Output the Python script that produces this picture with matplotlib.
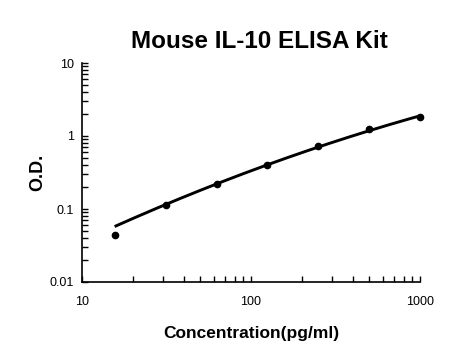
import numpy as np
import matplotlib
matplotlib.use("Agg")
import matplotlib.pyplot as plt
from matplotlib.ticker import LogLocator, FixedLocator, FixedFormatter, NullFormatter

conc = [15.6, 31.25, 62.5, 125, 250, 500, 1000]
od = [0.044, 0.115, 0.22, 0.405, 0.72, 1.26, 1.82]
fit_od = [0.059, 0.113, 0.214, 0.40, 0.72, 1.24, 1.82]

title = "Mouse IL-10 ELISA Kit"
xlabel = "Concentration(pg/ml)"
ylabel = "O.D."
xticks = [10, 100, 1000]
xticklabels = ["10", "100", "1000"]
yticks = [0.01, 0.1, 1, 10]
yticklabels = ["0.01", "0.1", "1", "10"]

plt.rcParams['font.family'] = ['Liberation Sans', 'DejaVu Sans']

fig = plt.figure(figsize=(4.54, 3.62), dpi=100)
ax = fig.add_axes([82/454, 1-282/362, (420-82)/454, (282-63)/362])

# smooth fitted curve (quadratic in log-log through the fit values)
lx = np.log10(conc)
coef = np.polyfit(lx, np.log10(fit_od), 2)
xs = np.linspace(lx[0], lx[-1], 200)
ax.plot(10**xs, 10**np.polyval(coef, xs), color='black', lw=2.1,
        solid_capstyle='butt', clip_on=False)
ax.plot(conc, od, 'o', color='black', ms=4.5, clip_on=False)

ax.set_xscale('log')
ax.set_yscale('log')
ax.set_xlim(10, 1000)
ax.set_ylim(0.01, 10)

ax.xaxis.set_major_locator(FixedLocator(xticks))
ax.xaxis.set_major_formatter(FixedFormatter(xticklabels))
ax.yaxis.set_major_locator(FixedLocator(yticks))
ax.yaxis.set_major_formatter(FixedFormatter(yticklabels))
ax.xaxis.set_minor_locator(LogLocator(base=10, subs=np.arange(2, 10)))
ax.yaxis.set_minor_locator(LogLocator(base=10, subs=np.arange(2, 10)))
ax.xaxis.set_minor_formatter(NullFormatter())
ax.yaxis.set_minor_formatter(NullFormatter())

for s in ['top', 'right']:
    ax.spines[s].set_visible(False)
for s in ['left', 'bottom']:
    ax.spines[s].set_linewidth(1.2)

ax.tick_params(which='both', direction='in', length=4, width=1, labelsize=9)
ax.tick_params(axis='x', which='major', pad=10)
ax.tick_params(axis='y', which='major', pad=6)

ax.set_title(title, fontsize=17.5, fontweight='bold', pad=11, x=0.524)
ax.set_xlabel(xlabel, fontsize=12.5, fontweight='bold', labelpad=13)
ax.set_ylabel(ylabel, fontsize=13, fontweight='bold', labelpad=2)

fig.savefig("out.png", dpi=100)
